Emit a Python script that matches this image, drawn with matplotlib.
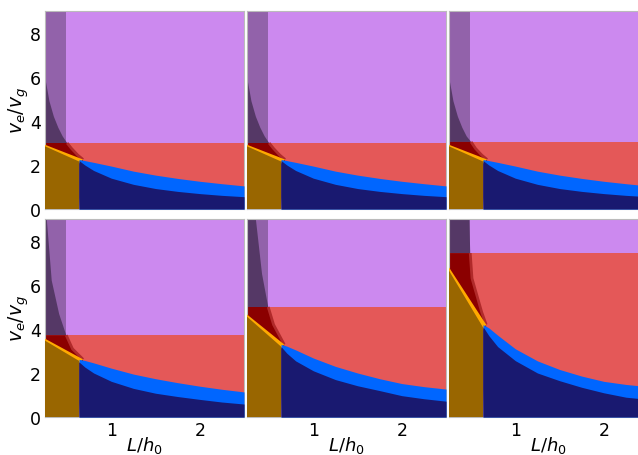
import matplotlib
matplotlib.use("Agg")
import matplotlib.pyplot as plt
import numpy as np

# ---------------- data ----------------
X_MIN, X_MAX = 0.25, 2.5
Y_MAX = 9.0
X_EDGE = 0.635          # right edge of the brown region / start of blue band
X_STRIP = 0.49          # right edge of the shaded strip

H_LEVEL = [3.0, 3.0, 3.05, 3.72, 5.0, 7.45]          # purple / red boundary
BROWN_LEFT = [2.85, 2.85, 2.85, 3.47, 4.56, 6.65]     # brown top at x = 0.25
BROWN_EDGE = [2.16, 2.16, 2.16, 2.55, 3.2, 4.07]      # brown top at X_EDGE
YELLOW_LEFT = [2.92, 2.92, 2.92, 3.56, 4.66, 6.8]     # yellow top at x = 0.25
TRIPLE_X = [0.68, 0.68, 0.68, 0.68, 0.67, 0.67]
TRIPLE_Y = [2.25, 2.25, 2.25, 2.62, 3.3, 4.2]

CURVE_X = [0.635, 0.7, 0.8, 1.0, 1.25, 1.5, 1.75, 2.0, 2.25, 2.5]
NAVY_TOP = [
    [2.2, 2.0, 1.75, 1.4, 1.12, 0.93, 0.8, 0.7, 0.62, 0.56],
    [2.2, 2.0, 1.75, 1.4, 1.12, 0.93, 0.8, 0.7, 0.62, 0.56],
    [2.2, 2.0, 1.75, 1.4, 1.12, 0.93, 0.8, 0.7, 0.62, 0.56],
    [2.5, 2.27, 2.0, 1.62, 1.3, 1.08, 0.93, 0.8, 0.68, 0.59],
    [3.2, 2.9, 2.55, 2.1, 1.7, 1.42, 1.2, 0.97, 0.83, 0.72],
    [4.1, 3.7, 3.2, 2.56, 2.0, 1.65, 1.35, 1.1, 0.9, 0.8],
]
BLUE_TOP = [
    [2.25, 2.2, 2.12, 1.95, 1.72, 1.54, 1.39, 1.26, 1.15, 1.05],
    [2.25, 2.2, 2.12, 1.95, 1.72, 1.54, 1.39, 1.26, 1.15, 1.05],
    [2.25, 2.2, 2.12, 1.95, 1.72, 1.54, 1.39, 1.26, 1.15, 1.05],
    [2.62, 2.57, 2.46, 2.22, 1.95, 1.74, 1.56, 1.4, 1.26, 1.14],
    [3.3, 3.22, 3.05, 2.68, 2.3, 2.0, 1.74, 1.52, 1.38, 1.27],
    [4.2, 4.05, 3.72, 3.1, 2.55, 2.16, 1.86, 1.62, 1.48, 1.38],
]
# steep boundary curve (from the top / left edge down to the triple point)
STEEP_X = [
    [0.25, 0.3, 0.35, 0.4, 0.45, 0.5, 0.55, 0.62, 0.68],
    [0.25, 0.3, 0.35, 0.4, 0.45, 0.5, 0.55, 0.62, 0.68],
    [0.25, 0.3, 0.35, 0.4, 0.45, 0.5, 0.55, 0.62, 0.68],
    [0.27, 0.326, 0.41, 0.49, 0.56, 0.68],
    [0.35, 0.42, 0.49, 0.55, 0.67],
    [0.48, 0.49, 0.51, 0.62, 0.67],
]
STEEP_Y = [
    [6.03, 4.9, 4.2, 3.7, 3.3, 3.0, 2.75, 2.45, 2.25],
    [6.03, 4.9, 4.2, 3.7, 3.3, 3.0, 2.75, 2.45, 2.25],
    [6.03, 4.9, 4.2, 3.7, 3.3, 3.05, 2.75, 2.45, 2.25],
    [9.0, 6.2, 4.68, 3.72, 3.1, 2.62],
    [9.0, 6.5, 5.0, 4.2, 3.3],
    [9.0, 7.45, 6.3, 4.76, 4.2],
]

X_TICKS = [1, 2]
Y_TICKS = [0, 2, 4, 6, 8]

# ---------------- colours ----------------
C_PURPLE = "#cc89ef"
C_STRIP = "#9262aa"
C_DARK = "#553866"
C_RED = "#e45858"
C_DARKRED = "#8b0000"
C_BLUE = "#0066ff"
C_NAVY = "#191970"
C_BROWN = "#996600"
C_YELLOW = "#ffaa00"

fig = plt.figure(figsize=(6.38, 4.56), dpi=100)
W, Hf = 638.0, 456.0
col_left = [45, 247, 449]
row_top = [12, 220]
aw, ah = 199, 198

for i in range(6):
    r, c = divmod(i, 3)
    ax = fig.add_axes([col_left[c] / W, 1 - (row_top[r] + ah) / Hf, aw / W, ah / Hf])
    ax.set_xlim(X_MIN, X_MAX)
    ax.set_ylim(0, Y_MAX)
    H = H_LEVEL[i]
    # background
    ax.axhspan(0, H, color=C_RED, lw=0, zorder=0)
    ax.axhspan(H, Y_MAX + 1, color=C_PURPLE, lw=0, zorder=0)
    # strip
    ax.fill_between([X_MIN, X_STRIP], H, Y_MAX + 1, color=C_STRIP, lw=0, zorder=1)
    sx = np.array(STEEP_X[i])
    sy = np.array(STEEP_Y[i])
    xH = np.interp(H, sy[::-1], sx[::-1])
    # dark purple region under steep curve (above H)
    above = sy >= H
    if sx[0] > X_MIN + 1e-9:
        px = [X_MIN, X_MIN, sx[0]] + list(sx[above]) + [xH]
        py = [H, Y_MAX + 1, Y_MAX + 1] + list(sy[above]) + [H]
    else:
        px = [X_MIN] + list(sx[above]) + [xH]
        py = [H] + list(sy[above]) + [H]
    ax.fill(px, py, color=C_DARK, lw=0, zorder=2)
    # dark red region (below H, under steep curve)
    below = sy < H
    dx = [X_MIN, xH] + list(sx[below]) + [X_EDGE, X_MIN]
    dy = [H, H] + list(sy[below]) + [0, 0]
    ax.fill(dx, dy, color=C_DARKRED, lw=0, zorder=2)
    ax.plot([xH] + list(sx[below]), [H] + list(sy[below]), color="#b02a2a",
            lw=2.0, zorder=2.5, solid_capstyle="butt")
    # yellow wedge
    ax.fill([X_MIN, X_MIN, TRIPLE_X[i], X_EDGE],
            [BROWN_LEFT[i] - 0.1, YELLOW_LEFT[i], TRIPLE_Y[i], BROWN_EDGE[i] - 0.1],
            color=C_YELLOW, lw=0, zorder=3)
    # brown region
    ax.fill([X_MIN, X_MIN, X_EDGE, X_EDGE], [0, BROWN_LEFT[i], BROWN_EDGE[i], 0],
            color=C_BROWN, lw=0, zorder=4)
    # blue band and navy
    ax.fill_between(CURVE_X, 0, BLUE_TOP[i], color=C_BLUE, lw=0, zorder=4)
    ax.fill_between(CURVE_X, 0, NAVY_TOP[i], color=C_NAVY, lw=0, zorder=5)

    ax.set_xticks(X_TICKS)
    ax.set_yticks(Y_TICKS)
    ax.tick_params(length=0, labelsize=12.5, pad=3)
    for s in ax.spines.values():
        s.set_color("#bbbbbb")
        s.set_linewidth(0.8)
    if c == 0:
        ax.set_ylabel(r"$v_e/v_g$", fontsize=13.5, labelpad=-1)
    else:
        ax.set_yticklabels([])
    if r == 1:
        ax.set_xlabel(r"$L/h_0$", fontsize=13, labelpad=-4)
    else:
        ax.set_xticklabels([])

fig.savefig("out.png", dpi=100)
